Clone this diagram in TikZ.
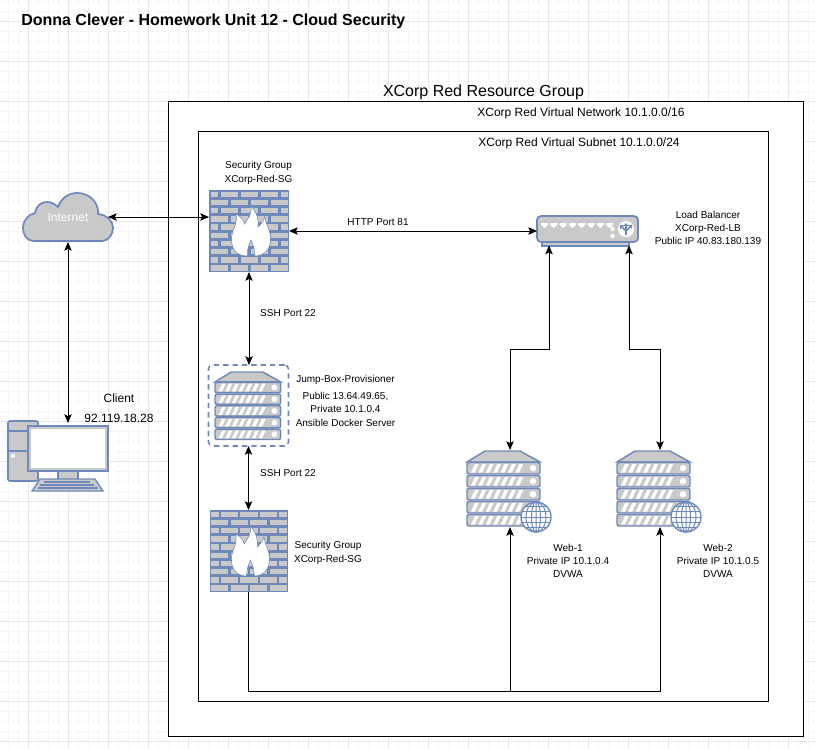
\documentclass[tikz,border=0pt]{standalone}
\usepackage{fontspec}
\setmainfont{Liberation Sans}
\usetikzlibrary{arrows.meta}
\definecolor{iconBlue}{HTML}{6F88BA}
\definecolor{iconGrey}{HTML}{C9C9C9}
\definecolor{gridMajor}{HTML}{E6E6E6}
\definecolor{gridMinor}{HTML}{F6F6F6}
\tikzset{
	small/.style={font=\fontsize{7.5}{10}\selectfont, align=center, inner sep=0pt},
	medium/.style={font=\fontsize{9}{11}\selectfont, align=center, inner sep=0pt},
	large/.style={font=\fontsize{12}{14}\selectfont, inner sep=0pt},
	iconbox/.style={inner sep=0pt, outer sep=0pt},
	link/.style={line width=0.75pt, >={Stealth[length=6.5pt,width=5.5pt,inset=1.3pt]}},
	group/.style={draw=black, fill=white, line width=0.8pt},
	firewallIcon/.pic={
		\fill[iconBlue] (0,0) rectangle (80,82);
		\foreach \r in {0,2,4,6,8} {
			\pgfmathsetmacro{\yA}{1.5+8.2*\r}
			\pgfmathsetmacro{\yB}{1.5+8.2*(\r+1)}
			\fill[iconGrey] (1.7,\yA) rectangle ++(7.6,5.5);
			\fill[iconGrey] (71.7,\yA) rectangle ++(7.6,5.5);
			\foreach \c in {11.7,31.7,51.7} \fill[iconGrey] (\c,\yA) rectangle ++(17.6,5.5);
			\foreach \c in {1.7,21.7,41.7,61.7} \fill[iconGrey] (\c,\yB) rectangle ++(17.6,5.5);
		}
		\draw[iconBlue, fill=white, line width=0.4pt] (38,66) .. controls (27,66) and (22,58) .. (22.5,48)
			.. controls (23,39) and (29,35) .. (27,24) .. controls (32,27) and (35,30) .. (35.5,34)
			.. controls (39,28) and (43,25) .. (42,16) .. controls (48,23) and (50,30) .. (49,37)
			.. controls (52,34) and (55,31) .. (56,26) .. controls (56,34) and (62,40) .. (61.5,50)
			.. controls (61.5,58) and (56,66) .. (46,66) .. controls (46,60) and (44,54) .. (42,50)
			.. controls (40,54) and (38,60) .. (38,66) -- cycle;
	},
	serverIcon/.pic={
		\draw[iconBlue, fill=iconGrey, line width=1.1pt] (18,0) -- (53,0) -- (73,11) -- (0,11) -- cycle;
		\foreach \s in {0,...,4} {
			\pgfmathsetmacro{\yS}{11.5+13*\s}
			\draw[iconBlue, fill=iconGrey, line width=1.1pt, rounded corners=1.5pt] (0,\yS) rectangle ++(73,11.5);
			\fill[white] (66,\yS+5.7) circle (3.2);
			\foreach \b in {0,...,6} {
				\pgfmathsetmacro{\xS}{4+7.4*\b}
				\fill[white] (\xS,\yS+10) -- ++(3.8,0) -- ++(4,-8.5) -- ++(-3.8,0) -- cycle;
			}
		}
	},
	globeIcon/.pic={
		\draw[iconBlue, fill=white, line width=1pt] (0,0) circle (15);
		\draw[iconBlue, line width=0.75pt] (0,0) ellipse (10 and 15) (0,0) ellipse (4.5 and 15) (0,-15) -- (0,15);
		\draw[iconBlue, line width=0.75pt] (-15,0) -- (15,0) (-14,-5.5) -- (14,-5.5) (-14,5.5) -- (14,5.5) (-10.5,-10.5) -- (10.5,-10.5) (-10.5,10.5) -- (10.5,10.5);
	},
	balancerIcon/.pic={
		\draw[iconBlue, fill=iconGrey, line width=1.1pt] (5,26) rectangle (92,30);
		\draw[iconBlue, fill=iconGrey, line width=1.3pt, rounded corners=3pt] (0,0) rectangle (101,26);
		\foreach \h in {0,...,7} {
			\pgfmathsetmacro{\xH}{4+9.3*\h}
			\fill[white] (\xH,7) -- ++(7,0) -- ++(0,2) -- ++(-3.5,3) -- ++(-3.5,-3) -- cycle;
		}
		\fill[white] (75.5,13) circle (2.2) (75.5,20) circle (2.2);
		\fill[white] (89,13) circle (8);
		\draw[iconBlue, line width=1.3pt] (89,19) -- (89,9) (89,15) -- (85,11) (89,15) -- (93,11);
		\fill[iconBlue] (86.5,10) -- (89,7) -- (91.5,10) -- cycle (83,13) -- (83,9) -- (87,9) -- cycle (95,13) -- (95,9) -- (91,9) -- cycle;
	},
	cloudIcon/.pic={
		\draw[iconBlue, fill=iconGrey, line width=1.3pt] (11,49) .. controls (4,49) and (0,43) .. (0,36)
			.. controls (0,28) and (6,22) .. (12,21) .. controls (13,14) and (18,10) .. (24,10)
			.. controls (28,10) and (32,12) .. (35,15) .. controls (38,6) and (46,1) .. (54,1)
			.. controls (66,1) and (76,10) .. (75,22) .. controls (84,23) and (90,29) .. (90,36)
			.. controls (90,43) and (85,49) .. (79,49) -- cycle;
	},
	computerIcon/.pic={
		\draw[iconBlue, fill=iconGrey, line width=1.2pt, rounded corners=1.5pt] (8,421) rectangle (38,481);
		\draw[iconBlue, line width=1.2pt] (8,431) -- (38,431) (8,451) -- (38,451);
		\fill[white] (13,456) circle (2);
		\draw[iconBlue, fill=iconGrey, line width=1pt] (58,471) rectangle (78,480);
		\draw[iconBlue, fill=iconGrey, line width=1.2pt] (28,426) rectangle (108,471);
		\fill[white] (31,429) rectangle (105,468);
		\draw[iconBlue, fill=iconGrey, line width=1pt] (40,479) -- (95,479) -- (103,491) -- (32,491) -- cycle;
		\draw[iconBlue, line width=1pt] (44,482) -- (90,482) (40,485) -- (94,485) (38,488) -- (98,488);
	},
}

\begin{document}
\begin{tikzpicture}[x=0.75pt, y=-0.75pt]
	\useasboundingbox (0,0) rectangle (816,749);

	%GRID
	\foreach \g in {8,18,...,808} \draw[gridMinor, line width=0.75pt] (\g,0) -- (\g,749);
	\foreach \g in {1.5,11.5,...,741.5} \draw[gridMinor, line width=0.75pt] (0,\g) -- (816,\g);
	\foreach \g in {28,68,...,808} \draw[gridMajor, line width=0.75pt] (\g,0) -- (\g,749);
	\foreach \g in {21.5,61.5,...,741.5} \draw[gridMajor, line width=0.75pt] (0,\g) -- (816,\g);

	%GROUPS
	\draw[group] (168.5,101.5) rectangle (803.5,736.5);
	\draw[group] (198.5,131.5) rectangle (768.5,701.5);

	\node[large, font=\fontsize{12}{14}\selectfont\bfseries, anchor=west] (title) at (21,21.5) {Donna Clever - Homework Unit 12 - Cloud Security};
	\node[large] (resourceLabel) at (483.5,92) {XCorp Red Resource Group};
	\node[medium] (networkLabel) at (581,113) {XCorp Red Virtual Network 10.1.0.0/16};
	\node[medium] (subnetLabel) at (579,143) {XCorp Red Virtual Subnet 10.1.0.0/24};

	%ICONS
	\pic at (23,192) {cloudIcon};
	\node[medium, text=white, iconbox, minimum width=60pt, minimum height=37.5pt] (internet) at (68,217) {Internet};

	\pic at (0,0) {computerIcon};
	\node[iconbox, minimum width=60pt, minimum height=51pt] (client) at (68,457) {};

	\pic at (209,190) {firewallIcon};
	\node[iconbox, minimum width=60pt, minimum height=61.5pt] (fwTop) at (249,231) {};

	\node[iconbox, draw=iconBlue, line width=1.2pt, dash pattern=on 4pt off 3pt, rounded corners=3pt, minimum width=60pt, minimum height=60.75pt] (jumpBox) at (248.5,405.5) {};
	\pic[scale=0.9] at (215,372) {serverIcon};

	\pic[xscale=0.975] at (209.5,510) {firewallIcon};
	\node[iconbox, minimum width=58.5pt, minimum height=61.5pt] (fwBot) at (248.5,551) {};

	\pic at (537,216) {balancerIcon};
	\node[iconbox, minimum width=75.75pt, minimum height=22.5pt] (lb) at (587.5,231) {};

	\pic at (467,451) {serverIcon};
	\pic at (536,517) {globeIcon};
	\node[iconbox, minimum width=64.5pt, minimum height=57.75pt] (webOne) at (510,488.5) {};

	\pic at (617,451) {serverIcon};
	\pic at (686,517) {globeIcon};
	\node[iconbox, minimum width=64.5pt, minimum height=57.75pt] (webTwo) at (660,488.5) {};

	%LABELS
	\node[small] (fwTopLabel) at (258.5,173) {Security Group\\XCorp-Red-SG};
	\node[small] (httpLabel) at (378,222) {HTTP Port 81};
	\node[small] (lbLabel) at (708,228) {Load Balancer\\XCorp-Red-LB\\Public IP 40.83.180.139};
	\node[small] (sshTop) at (288,313) {SSH Port 22};
	\node[small] (jumpLabel) at (345.5,400.5) {Jump-Box-Provisioner\\[3pt]Public 13.64.49.65,\\Private 10.1.0.4\\Ansible Docker Server};
	\node[small] (sshBot) at (288,473) {SSH Port 22};
	\node[small] (fwBotLabel) at (328,553) {Security Group\\XCorp-Red-SG};
	\node[small] (webOneLabel) at (568,561) {Web-1\\Private IP 10.1.0.4\\DVWA};
	\node[small] (webTwoLabel) at (718,561) {Web-2\\Private IP 10.1.0.5\\DVWA};
	\node[medium] (clientLabel) at (119,398.5) {Client};
	\node[medium] (clientIp) at (119,418.5) {92.119.18.28};

	%LINES
	\coordinate (lbLeft) at (549,245.5);
	\coordinate (lbRight) at (629,245.5);
	\coordinate (busEnd) at (660,691);

	\draw[link, <->] (internet.east) -- (fwTop.west |- internet.east);
	\draw[link, <->] (internet.south) -- (68,423);
	\draw[link, <->] (fwTop.east) -- (lb.west);
	\draw[link, <->] (fwTop.south) -- (fwTop.south |- jumpBox.north);
	\draw[link, <->] (jumpBox.south) -- (fwBot.north);
	\draw[link, <->] (lbLeft) -- ++(0,103.5) -| (webOne.north);
	\draw[link, <->] (lbRight) -- ++(0,103.5) -| (webTwo.north);
	\draw[link, ->] (fwBot.south) |- (busEnd) -- (webTwo.south);
	\draw[link, ->] (webOne.south |- busEnd) -- (webOne.south);
\end{tikzpicture}
\end{document}
